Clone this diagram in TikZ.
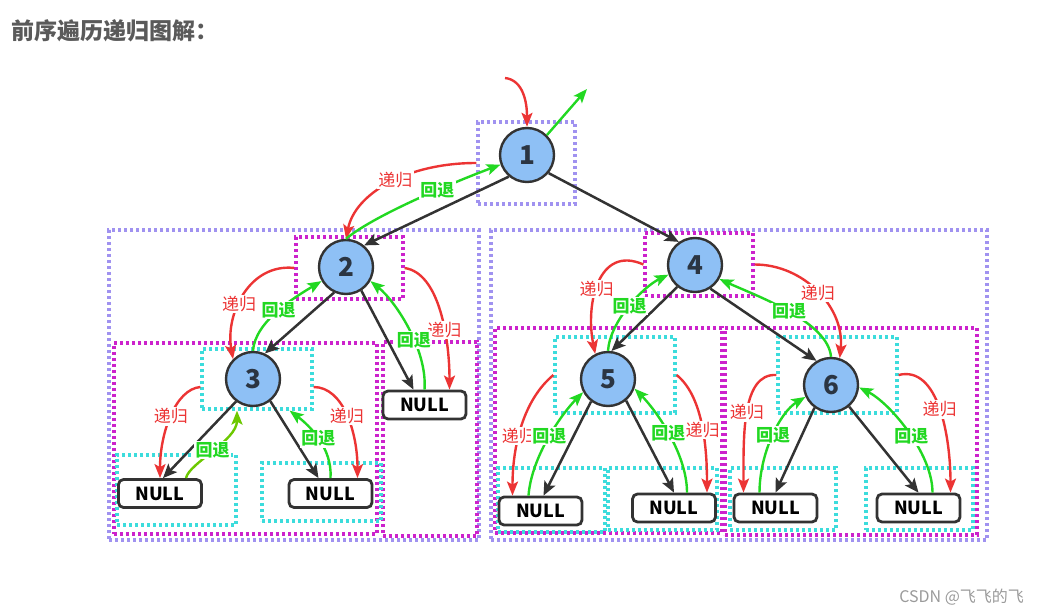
\documentclass[tikz,border=0pt]{standalone}
\usepackage{fontspec}
\setmainfont{Noto Sans CJK SC}
\usetikzlibrary{arrows.meta,fit}

\definecolor{nodefill}{HTML}{8EC0F5}
\definecolor{nodeline}{HTML}{333333}
\definecolor{numc}{HTML}{2B3542}
\definecolor{redc}{HTML}{EC3434}
\definecolor{greenc}{HTML}{22D822}
\definecolor{limec}{HTML}{6CC800}
\definecolor{lavc}{HTML}{A092F0}
\definecolor{magc}{HTML}{CC22CC}
\definecolor{cyanc}{HTML}{3CDCDC}
\definecolor{titlec}{HTML}{5A5A5A}
\definecolor{markc}{HTML}{9A9A9A}

\begin{document}
\begin{tikzpicture}[x=0.5pt,y=-0.5pt,
    tnode/.style={circle,draw=nodeline,fill=nodefill,line width=1.2pt,minimum size=27pt,inner sep=0pt,
        font=\fontsize{13}{13}\selectfont\bfseries,text=numc},
    nullbox/.style={draw=nodeline,fill=white,rounded corners=2.5pt,line width=1.4pt,minimum width=41.5pt,
        minimum height=14pt,inner sep=0pt,font=\fontsize{9}{9}\selectfont\bfseries},
    dotbox/.style={line width=1.6pt,dash pattern=on 1.4pt off 1.6pt,inner sep=0pt},
    lavbox/.style={dotbox,draw=lavc},
    magbox/.style={dotbox,draw=magc},
    cyanbox/.style={dotbox,draw=cyanc},
    edge/.style={draw=nodeline,line width=1.25pt,-{Stealth[length=7pt,width=6pt,inset=1.5pt]}},
    godown/.style={draw=redc,line width=1.2pt,-{Stealth[length=7pt,width=5.5pt,inset=1.5pt]}},
    goback/.style={draw=greenc,line width=1.2pt,-{Stealth[length=7pt,width=5.5pt,inset=1.5pt]}},
    redlbl/.style={fill=white,inner sep=0.6pt,text=redc,font=\fontsize{8.5}{8.5}\selectfont},
    greenlbl/.style={fill=white,inner sep=0.6pt,text=greenc,font=\fontsize{8.5}{8.5}\selectfont\bfseries}]
    \useasboundingbox (0,0) rectangle (1047,614);

    \node[anchor=west,text=titlec,font=\fontsize{11.5}{11.5}\selectfont\bfseries] (title) at (4,31) {前序遍历递归图解：};
    \node[anchor=east,text=markc,font=\fontsize{8}{8}\selectfont] (mark) at (1031,597) {CSDN @飞飞的飞};

    % dotted boxes
    \node[lavbox,fit={(109,230) (479,540)}] (left) {};
    \node[lavbox,fit={(491,230) (987,540)}] (right) {};
    \node[lavbox,fit={(478,122) (575,204)}] (b1) {};
    \node[magbox,fit={(296,237) (403,299)}] (b2) {};
    \node[magbox,fit={(114,343) (377,534)}] (sub3) {};
    \node[magbox,fit={(383,342) (477,536)}] (subn2) {};
    \node[magbox,fit={(645,233) (753,296)}] (b4) {};
    \node[magbox,fit={(495,328) (722,533)}] (sub5) {};
    \node[magbox,fit={(725,328) (977,535)}] (sub6) {};
    \node[cyanbox,fit={(202,349) (312,409)}] (b3) {};
    \node[cyanbox,fit={(117,455) (236,525)}] (cl3) {};
    \node[cyanbox,fit={(262,463) (381,521)}] (cr3) {};
    \node[cyanbox,fit={(555,337) (675,413)}] (b5) {};
    \node[cyanbox,fit={(778,337) (897,413)}] (b6) {};
    \node[cyanbox,fit={(498,468) (605,532)}] (cl5) {};
    \node[cyanbox,fit={(608,468) (717,530)}] (cr5) {};
    \node[cyanbox,fit={(730,468) (836,530)}] (cl6) {};
    \node[cyanbox,fit={(866,468) (973,530)}] (cr6) {};

    % tree
    \node[tnode] (n1) at (527,155) {1};
    \node[tnode] (n2) at (346,267) {2};
    \node[tnode] (n3) at (253,379) {3};
    \node[tnode] (n4) at (695,265) {4};
    \node[tnode] (n5) at (608,379) {5};
    \node[tnode] (n6) at (831,385) {6};
    \node[nullbox] (nl3) at (160,493.5) {NULL};
    \node[nullbox] (nr3) at (330.5,493.5) {NULL};
    \node[nullbox] (nn2) at (424.5,405) {NULL};
    \node[nullbox] (nl5) at (540.5,511) {NULL};
    \node[nullbox] (nr5) at (674,508) {NULL};
    \node[nullbox] (nl6) at (775.5,508) {NULL};
    \node[nullbox] (nr6) at (918.5,508) {NULL};

    \draw[edge] (n1.230) -- (n2.50);
    \draw[edge] (n1.-40) -- (n4.125);
    \draw[edge] (n2.245) -- (n3.65);
    \draw[edge] (n2.-57) -- ([xshift=-5.5pt]nn2.north);
    \draw[edge] (n3.233) -- ([xshift=1.5pt]nl3.north);
    \draw[edge] (n3.-52) -- ([xshift=-6pt]nr3.north);
    \draw[edge] (n4.231) -- (n5.83);
    \draw[edge] (n4.-57) -- (n6.121);
    \draw[edge] (n5.233) -- ([xshift=1.5pt]nl5.north);
    \draw[edge] (n5.-50) -- (nr5.north);
    \draw[edge] (n6.234) -- (nl6.north);
    \draw[edge] (n6.-50) -- (nr6.north);

    % recursion and return
    \coordinate (in0) at (505,78);
    \coordinate (out0) at (587,89);
    \draw[godown] (in0) .. controls +(18,2) and +(0,-25) .. (n1.north);
    \draw[goback] (n1.45) -- (out0);

    \draw[godown] (b1.west) .. controls +(-70,0) and +(9,-45) .. node[redlbl,pos=0.45] {递归} (n2.north);
    \draw[goback] (n2.north) .. controls +(30,-25) and +(-40,15) .. node[greenlbl,pos=0.6] {回退} (n1.200);

    \draw[godown] (b2.west) .. controls +(-45,-5) and +(-8,-45) .. node[redlbl,pos=0.58] {递归} (n3.135);
    \draw[goback] (n3.north) .. controls +(2,-30) and +(-25,15) .. node[greenlbl] {回退} (n2.210);
    \draw[godown] (b2.east) .. controls +(35,5) and +(0,-50) .. node[redlbl,pos=0.62] {递归} ([xshift=12.5pt]nn2.north);
    \draw[goback] (nn2.north) .. controls +(3,-40) and +(25,20) .. node[greenlbl,pos=0.4] {回退} (n2.-30);

    \draw[godown] ([yshift=-4pt]b3.west) .. controls +(-25,2) and +(0,-45) .. node[redlbl] {递归} (nl3.north);
    \draw[goback,draw=limec] ([xshift=13pt]nl3.north) .. controls +(3,-15) and +(0,30) .. node[greenlbl] {回退} ([xshift=-10pt]b3.south);
    \draw[godown] ([yshift=-4pt]b3.east) .. controls +(30,0) and +(0,-45) .. node[redlbl] {递归} ([xshift=13.5pt]nr3.north);
    \draw[goback] (nr3.north) .. controls +(2,-30) and +(20,15) .. node[greenlbl] {回退} ([xshift=-12pt]b3.south east);

    \draw[godown] (b4.west) .. controls +(-45,-20) and +(-10,-50) .. node[redlbl,pos=0.55] {递归} (n5.117);
    \draw[goback] (n5.north) .. controls +(2,-30) and +(-25,12) .. node[greenlbl] {回退} (n4.200);
    \draw[godown] (b4.east) .. controls +(50,0) and +(5,-50) .. node[redlbl] {递归} (n6.72);
    \draw[goback] (n6.north) .. controls +(-3,-35) and +(40,18) .. node[greenlbl] {回退} (n4.-30);

    \draw[godown] (b5.west) .. controls +(-30,25) and +(0,-50) .. node[redlbl,pos=0.58] {递归} ([xshift=-14pt]nl5.north);
    \draw[goback] ([xshift=-6pt]nl5.north) .. controls +(3,-40) and +(-20,20) .. node[greenlbl] {回退} (n5.208);
    \draw[godown] (b5.east) .. controls +(25,20) and +(0,-50) .. node[redlbl,pos=0.56] {递归} ([xshift=16.5pt]nr5.north);
    \draw[goback] ([xshift=6.5pt]nr5.north) .. controls +(0,-40) and +(20,20) .. node[greenlbl] {回退} (n5.-20);

    \draw[godown] (b6.west) .. controls +(-35,-2) and +(0,-55) .. node[redlbl] {递归} ([xshift=-16pt]nl6.north);
    \draw[goback] ([xshift=-8pt]nl6.north) .. controls +(0,-40) and +(-25,15) .. node[greenlbl] {回退} (n6.205);
    \draw[godown] (b6.east) .. controls +(40,-10) and +(0,-55) .. node[redlbl] {递归} ([xshift=16pt]nr6.north);
    \draw[goback] ([xshift=7pt]nr6.north) .. controls +(0,-40) and +(30,15) .. node[greenlbl,pos=0.45] {回退} (n6.-5);
\end{tikzpicture}
\end{document}
